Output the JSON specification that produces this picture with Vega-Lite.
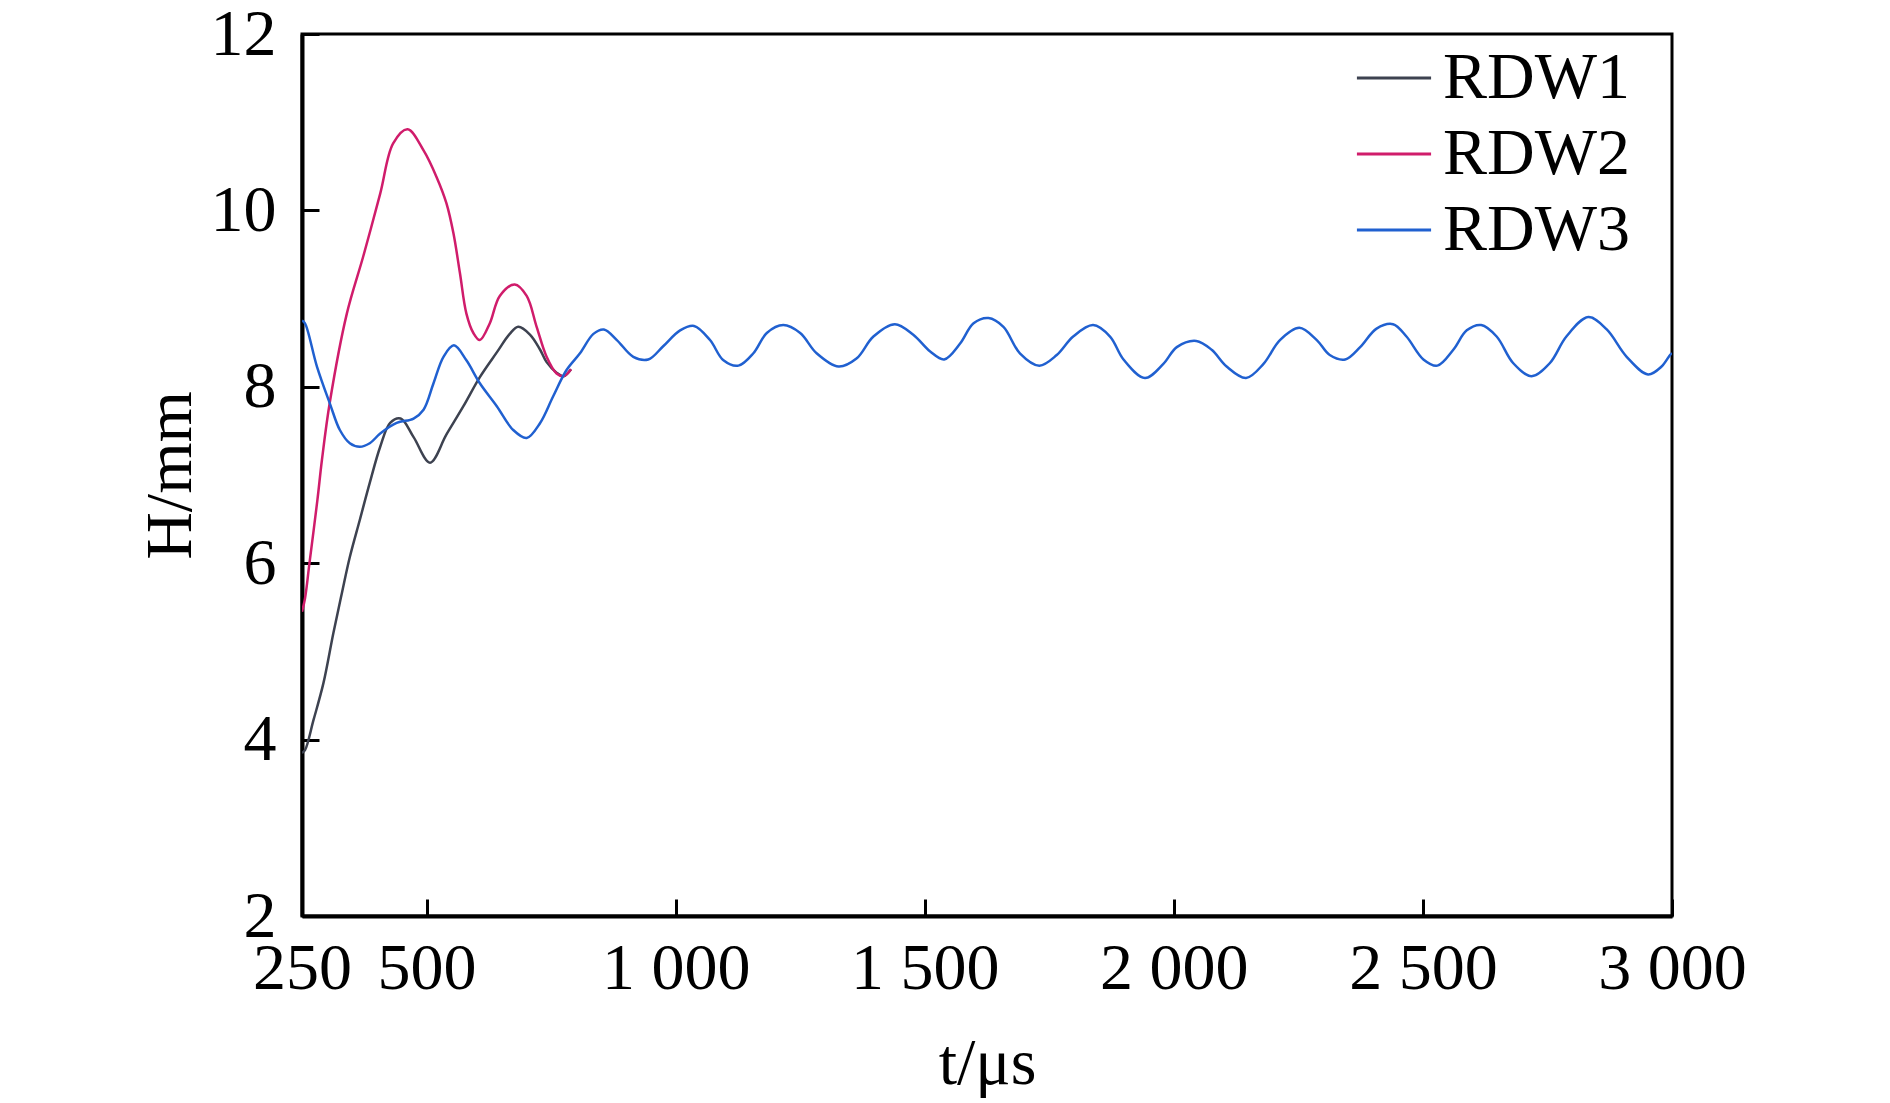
{
  "$schema": "https://vega.github.io/schema/vega-lite/v6.json",
  "width": 1370,
  "height": 882,
  "autosize": {"type": "none"},
  "padding": {"left": 302, "top": 34, "right": 218, "bottom": 187},
  "background": "white",
  "data": {
    "values": [
      {"series": "RDW1", "t": 250, "H": 3.85},
      {"series": "RDW1", "t": 256, "H": 3.88},
      {"series": "RDW1", "t": 273, "H": 4.22},
      {"series": "RDW1", "t": 293, "H": 4.64},
      {"series": "RDW1", "t": 313, "H": 5.21},
      {"series": "RDW1", "t": 330, "H": 5.66},
      {"series": "RDW1", "t": 346, "H": 6.07},
      {"series": "RDW1", "t": 366, "H": 6.49},
      {"series": "RDW1", "t": 386, "H": 6.91},
      {"series": "RDW1", "t": 407, "H": 7.32},
      {"series": "RDW1", "t": 427, "H": 7.59},
      {"series": "RDW1", "t": 448, "H": 7.64},
      {"series": "RDW1", "t": 474, "H": 7.43},
      {"series": "RDW1", "t": 507, "H": 7.14},
      {"series": "RDW1", "t": 540, "H": 7.46},
      {"series": "RDW1", "t": 574, "H": 7.78},
      {"series": "RDW1", "t": 607, "H": 8.11},
      {"series": "RDW1", "t": 641, "H": 8.39},
      {"series": "RDW1", "t": 667, "H": 8.6},
      {"series": "RDW1", "t": 684, "H": 8.68},
      {"series": "RDW1", "t": 708, "H": 8.59},
      {"series": "RDW1", "t": 728, "H": 8.42},
      {"series": "RDW1", "t": 741, "H": 8.28},
      {"series": "RDW1", "t": 761, "H": 8.16},
      {"series": "RDW1", "t": 775, "H": 8.12},
      {"series": "RDW1", "t": 790, "H": 8.2},

      {"series": "RDW2", "t": 250, "H": 5.45},
      {"series": "RDW2", "t": 256, "H": 5.6},
      {"series": "RDW2", "t": 265, "H": 6.0},
      {"series": "RDW2", "t": 281, "H": 6.72},
      {"series": "RDW2", "t": 290, "H": 7.17},
      {"series": "RDW2", "t": 306, "H": 7.83},
      {"series": "RDW2", "t": 340, "H": 8.83},
      {"series": "RDW2", "t": 373, "H": 9.48},
      {"series": "RDW2", "t": 407, "H": 10.19},
      {"series": "RDW2", "t": 433, "H": 10.76},
      {"series": "RDW2", "t": 462, "H": 10.92},
      {"series": "RDW2", "t": 494, "H": 10.68},
      {"series": "RDW2", "t": 520, "H": 10.38},
      {"series": "RDW2", "t": 540, "H": 10.08},
      {"series": "RDW2", "t": 554, "H": 9.74},
      {"series": "RDW2", "t": 567, "H": 9.29},
      {"series": "RDW2", "t": 580, "H": 8.83},
      {"series": "RDW2", "t": 594, "H": 8.61},
      {"series": "RDW2", "t": 607, "H": 8.53},
      {"series": "RDW2", "t": 627, "H": 8.72},
      {"series": "RDW2", "t": 647, "H": 9.03},
      {"series": "RDW2", "t": 677, "H": 9.16},
      {"series": "RDW2", "t": 701, "H": 9.03},
      {"series": "RDW2", "t": 721, "H": 8.68},
      {"series": "RDW2", "t": 741, "H": 8.34},
      {"series": "RDW2", "t": 761, "H": 8.15},
      {"series": "RDW2", "t": 775, "H": 8.12},
      {"series": "RDW2", "t": 790, "H": 8.2},

      {"series": "RDW3", "t": 250, "H": 8.75},
      {"series": "RDW3", "t": 256, "H": 8.72},
      {"series": "RDW3", "t": 280, "H": 8.23},
      {"series": "RDW3", "t": 306, "H": 7.81},
      {"series": "RDW3", "t": 326, "H": 7.51},
      {"series": "RDW3", "t": 346, "H": 7.36},
      {"series": "RDW3", "t": 366, "H": 7.32},
      {"series": "RDW3", "t": 386, "H": 7.36},
      {"series": "RDW3", "t": 407, "H": 7.47},
      {"series": "RDW3", "t": 440, "H": 7.59},
      {"series": "RDW3", "t": 474, "H": 7.64},
      {"series": "RDW3", "t": 494, "H": 7.74},
      {"series": "RDW3", "t": 514, "H": 8.04},
      {"series": "RDW3", "t": 534, "H": 8.34},
      {"series": "RDW3", "t": 555, "H": 8.47},
      {"series": "RDW3", "t": 580, "H": 8.3},
      {"series": "RDW3", "t": 607, "H": 8.04},
      {"series": "RDW3", "t": 641, "H": 7.78},
      {"series": "RDW3", "t": 674, "H": 7.51},
      {"series": "RDW3", "t": 701, "H": 7.42},
      {"series": "RDW3", "t": 728, "H": 7.59},
      {"series": "RDW3", "t": 754, "H": 7.89},
      {"series": "RDW3", "t": 781, "H": 8.19},
      {"series": "RDW3", "t": 808, "H": 8.38},
      {"series": "RDW3", "t": 835, "H": 8.6},
      {"series": "RDW3", "t": 856, "H": 8.65},
      {"series": "RDW3", "t": 882, "H": 8.53},
      {"series": "RDW3", "t": 915, "H": 8.34},
      {"series": "RDW3", "t": 945, "H": 8.31},
      {"series": "RDW3", "t": 975, "H": 8.46},
      {"series": "RDW3", "t": 1009, "H": 8.64},
      {"series": "RDW3", "t": 1037, "H": 8.69},
      {"series": "RDW3", "t": 1069, "H": 8.53},
      {"series": "RDW3", "t": 1096, "H": 8.3},
      {"series": "RDW3", "t": 1126, "H": 8.24},
      {"series": "RDW3", "t": 1156, "H": 8.38},
      {"series": "RDW3", "t": 1183, "H": 8.61},
      {"series": "RDW3", "t": 1216, "H": 8.7},
      {"series": "RDW3", "t": 1250, "H": 8.61},
      {"series": "RDW3", "t": 1283, "H": 8.38},
      {"series": "RDW3", "t": 1327, "H": 8.23},
      {"series": "RDW3", "t": 1363, "H": 8.32},
      {"series": "RDW3", "t": 1397, "H": 8.57},
      {"series": "RDW3", "t": 1440, "H": 8.71},
      {"series": "RDW3", "t": 1477, "H": 8.59},
      {"series": "RDW3", "t": 1511, "H": 8.4},
      {"series": "RDW3", "t": 1539, "H": 8.31},
      {"series": "RDW3", "t": 1571, "H": 8.49},
      {"series": "RDW3", "t": 1598, "H": 8.72},
      {"series": "RDW3", "t": 1628, "H": 8.78},
      {"series": "RDW3", "t": 1658, "H": 8.68},
      {"series": "RDW3", "t": 1691, "H": 8.38},
      {"series": "RDW3", "t": 1730, "H": 8.24},
      {"series": "RDW3", "t": 1765, "H": 8.36},
      {"series": "RDW3", "t": 1798, "H": 8.57},
      {"series": "RDW3", "t": 1838, "H": 8.7},
      {"series": "RDW3", "t": 1872, "H": 8.57},
      {"series": "RDW3", "t": 1899, "H": 8.31},
      {"series": "RDW3", "t": 1942, "H": 8.1},
      {"series": "RDW3", "t": 1979, "H": 8.26},
      {"series": "RDW3", "t": 2006, "H": 8.45},
      {"series": "RDW3", "t": 2045, "H": 8.52},
      {"series": "RDW3", "t": 2076, "H": 8.42},
      {"series": "RDW3", "t": 2106, "H": 8.23},
      {"series": "RDW3", "t": 2145, "H": 8.1},
      {"series": "RDW3", "t": 2180, "H": 8.26},
      {"series": "RDW3", "t": 2213, "H": 8.53},
      {"series": "RDW3", "t": 2252, "H": 8.67},
      {"series": "RDW3", "t": 2287, "H": 8.53},
      {"series": "RDW3", "t": 2313, "H": 8.36},
      {"series": "RDW3", "t": 2344, "H": 8.31},
      {"series": "RDW3", "t": 2374, "H": 8.45},
      {"series": "RDW3", "t": 2407, "H": 8.66},
      {"series": "RDW3", "t": 2440, "H": 8.71},
      {"series": "RDW3", "t": 2467, "H": 8.57},
      {"series": "RDW3", "t": 2501, "H": 8.31},
      {"series": "RDW3", "t": 2529, "H": 8.24},
      {"series": "RDW3", "t": 2561, "H": 8.42},
      {"series": "RDW3", "t": 2588, "H": 8.64},
      {"series": "RDW3", "t": 2617, "H": 8.7},
      {"series": "RDW3", "t": 2648, "H": 8.57},
      {"series": "RDW3", "t": 2681, "H": 8.27},
      {"series": "RDW3", "t": 2718, "H": 8.12},
      {"series": "RDW3", "t": 2755, "H": 8.27},
      {"series": "RDW3", "t": 2788, "H": 8.57},
      {"series": "RDW3", "t": 2832, "H": 8.79},
      {"series": "RDW3", "t": 2869, "H": 8.65},
      {"series": "RDW3", "t": 2909, "H": 8.34},
      {"series": "RDW3", "t": 2952, "H": 8.14},
      {"series": "RDW3", "t": 2979, "H": 8.23},
      {"series": "RDW3", "t": 2996, "H": 8.36},
      {"series": "RDW3", "t": 3000, "H": 8.38}
    ]
  },
  "mark": {"type": "line", "interpolate": "catmull-rom", "strokeWidth": 2.5, "clip": true},
  "encoding": {
    "x": {
      "field": "t",
      "type": "quantitative",
      "scale": {"domain": [250, 3000], "nice": false, "zero": false},
      "axis": {
        "title": "t/μs",
        "values": [250, 500, 1000, 1500, 2000, 2500, 3000],
        "labelExpr": "datum.value >= 1000 ? replace(format(datum.value, ','), ',', ' ') : format(datum.value, 'd')",
        "labelPadding": 37,
        "titleX": 685,
        "titleY": 167,
        "titleBaseline": "alphabetic",
        "titleAlign": "center"
      }
    },
    "y": {
      "field": "H",
      "type": "quantitative",
      "scale": {"domain": [2, 12], "nice": false, "zero": false},
      "axis": {
        "title": "H/mm",
        "values": [2, 4, 6, 8, 10, 12],
        "labelPadding": 43,
        "titleX": -112,
        "titleY": 441,
        "titleAngle": -90,
        "titleBaseline": "alphabetic",
        "titleAlign": "center"
      }
    },
    "color": {
      "field": "series",
      "type": "nominal",
      "scale": {"domain": ["RDW1", "RDW2", "RDW3"], "range": ["#3d4250", "#d01c6b", "#2060d0"]},
      "legend": {
        "title": null,
        "orient": "none",
        "legendX": 1053,
        "legendY": 5,
        "symbolType": "stroke",
        "symbolSize": 5500,
        "symbolStrokeWidth": 3,
        "labelOffset": 10,
        "labelLimit": 0,
        "rowPadding": 4,
        "padding": 0,
        "labelFont": "Liberation Serif",
        "labelFontSize": 66,
        "labelColor": "black",
        "labelBaseline": "middle"
      }
    }
  },
  "config": {
    "font": "Liberation Serif",
    "view": {"stroke": "black", "strokeWidth": 3},
    "axis": {
      "grid": false,
      "domainColor": "black",
      "domainWidth": 4,
      "tickColor": "black",
      "tickWidth": 3,
      "tickSize": -17,
      "labelFont": "Liberation Serif",
      "labelFontSize": 66,
      "labelColor": "black",
      "labelFlush": false,
      "labelOverlap": false,
      "titleFont": "Liberation Serif",
      "titleFontSize": 66,
      "titleFontWeight": "normal",
      "titleColor": "black"
    }
  }
}
